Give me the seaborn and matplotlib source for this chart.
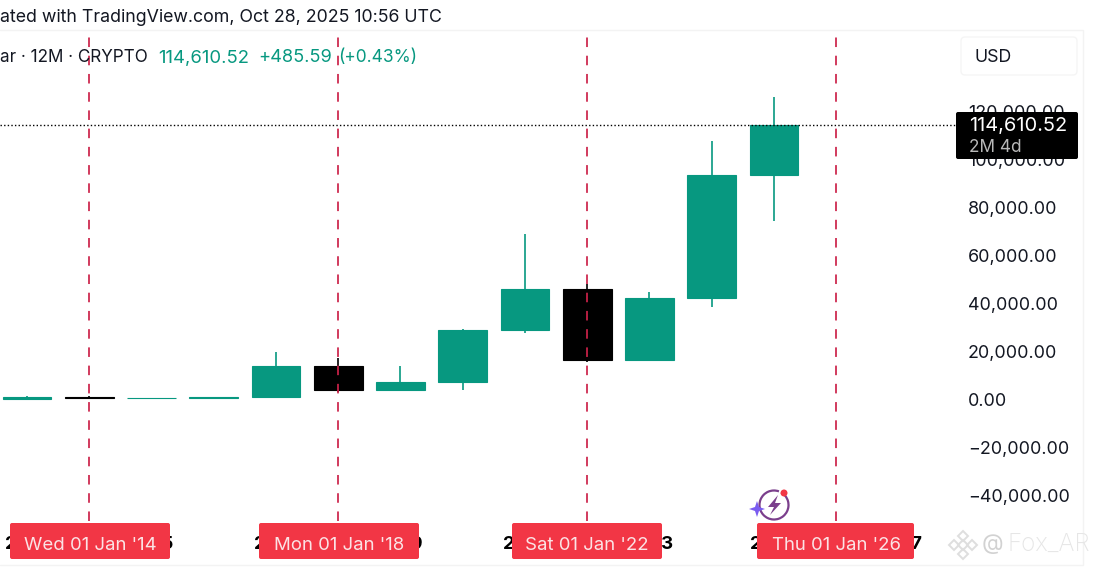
#!/usr/bin/env python3
# yearly candles, tradingview style
import pandas as pd
import matplotlib.pyplot as plt
import seaborn as sns
from matplotlib.patches import FancyBboxPatch, Circle, Arc, Polygon

years = [2013, 2014, 2015, 2016, 2017, 2018, 2019, 2020, 2021, 2022, 2023, 2024, 2025]
opens = [13, 750, 320, 430, 960, 13880, 3700, 7200, 29000, 46200, 16500, 42200, 93400]
closes = [750, 320, 430, 960, 13880, 3700, 7200, 29000, 46200, 16500, 42200, 93400, 114610.52]
highs = [1160, 1150, 500, 1000, 19700, 17200, 13800, 29300, 69000, 48000, 44700, 108000, 126000]
lows = [13, 200, 170, 360, 780, 3200, 3400, 3850, 27700, 15500, 16500, 38500, 74500]

year_ticks = [2013, 2015, 2017, 2019, 2021, 2023, 2025, 2027]
price_ticks = [-40000, -20000, 0, 20000, 40000, 60000, 80000, 100000, 120000]
session_years = [2014, 2018, 2022, 2026]
session_labels = ["Wed 01 Jan '14", "Mon 01 Jan '18", "Sat 01 Jan '22", "Thu 01 Jan '26"]
last_price = 114610.52

UP = '#079880'
DOWN = '#000000'
RED = '#F23645'

sns.set_theme(style='white')
plt.rcParams['font.family'] = ['Inter', 'DejaVu Sans']

W, H = 1099, 571
fig = plt.figure(figsize=(W / 100, H / 100), dpi=100)
ax = fig.add_axes([0, (H - 521) / H, 958 / W, (521 - 30) / H])

df = pd.DataFrame({'year': years, 'open': opens, 'close': closes, 'high': highs, 'low': lows})
df['bottom'] = df[['open', 'close']].min(axis=1)
df['size'] = (df['close'] - df['open']).abs()
colors = [UP if c >= o else DOWN for o, c in zip(opens, closes)]

# candle bodies
sns.barplot(data=df, x='year', y='size', bottom=df['bottom'], native_scale=True,
            color=UP, saturation=1, width=0.785, errorbar=None, linewidth=0.8, ax=ax)
for patch, c in zip(ax.patches, colors):
    patch.set_facecolor(c)
    patch.set_edgecolor(c)

# wicks
ax.vlines(df['year'], df['low'], df['high'], colors=colors, linewidth=1.2, zorder=1)

for y in session_years:
    ax.axvline(y, color='#CC2249', linewidth=1.25, linestyle=(0, (5.5, 5)), zorder=3)
ax.axhline(last_price, color='black', linewidth=1, linestyle=(0, (1, 1.6)), zorder=3)

ax.set_xlim(2014 - 89.2 / 62.25, 2014 + (958 - 89.2) / 62.25)
ax.set_ylim((399.2 - 521) * 417.5, (399.2 - 30) * 417.5)
ax.set_xlabel('')
ax.set_ylabel('')
ax.set_xticks(year_ticks)
ax.set_xticklabels([str(y) for y in year_ticks], fontsize=13.5, fontweight='bold', color='black')
ax.set_yticks(price_ticks)
ax.set_yticklabels([f'{p:,.2f}'.replace('-', '\u2212') for p in price_ticks], fontsize=12.9,
                   color='#131722')
ax.yaxis.tick_right()
ax.tick_params(axis='y', length=0, pad=7)
ax.tick_params(axis='x', length=0, pad=11)
sns.despine(ax=ax, left=True, bottom=True, right=True, top=True)

# overlay in pixel coordinates for the chrome around the chart
ov = fig.add_axes([0, 0, 1, 1], zorder=5)
ov.set_xlim(0, W)
ov.set_ylim(H, 0)
ov.axis('off')
ov.patch.set_alpha(0)

ov.plot([0, 1083, 1083, 0], [30, 30, 565, 565], color='#F3F3F3', linewidth=1)


def box(x0, y0, x1, y1, fc, ec='none', r=2):
    ov.add_patch(FancyBboxPatch((x0 + r, y0 + r), x1 - x0 - 2 * r, y1 - y0 - 2 * r,
                                boxstyle=f'round,pad={r},rounding_size={r}', fc=fc, ec=ec, lw=1))


ov.text(0, 18, 'ated with TradingView.com, Oct 28, 2025 10:56 UTC', fontsize=12.8,
        color='#131722', va='center')
ov.text(0, 58, 'ar \u00b7 12M \u00b7 CRYPTO', fontsize=12.3, color='#131722', va='center')
ov.text(158, 58, '114,610.52', fontsize=13.3, color=UP, va='center')
ov.text(258, 58, '+485.59', fontsize=13.1, color=UP, va='center')
ov.text(338, 58, '(+0.43%)', fontsize=12.5, color=UP, va='center')

box(961, 37, 1077, 75, 'white', '#F5F5F5', r=4)
ov.text(975, 57, 'USD', fontsize=12.8, color='#131722', va='center')

# last price tag
box(956, 112, 1078, 159, 'black')
ov.text(969, 125.5, f'{last_price:,.2f}', fontsize=14.4, color='white', va='center')
ov.text(969, 147, '2M 4d', fontsize=12.4, color='#B8B8B8', va='center')

# date labels
spans = [(10, 170), (259, 419), (512, 662), (757, 914)]
centers = [90, 339, 587, 836]
for (x0, x1), xc, label in zip(spans, centers, session_labels):
    box(x0, 523, x1, 559, RED)
    ov.text(xc, 545, label, fontsize=13.4, color='#FBE3E5', ha='center', va='center')

# lightning badge
ov.add_patch(Arc((774, 505), 29, 29, theta1=-60, theta2=290, color='#7B3F8C', lw=1.6))
ov.add_patch(Polygon([(778, 495), (768, 507), (774, 507), (770, 515), (781, 503), (775, 503)],
                     fc='#7B3F8C', ec='none'))
ov.add_patch(Circle((784, 493), 3.5, fc=RED, ec='none'))
ov.add_patch(Polygon([(757, 501), (759, 507), (765, 509), (759, 511), (757, 517), (755, 511),
                      (749, 509), (755, 507)], fc='#7A5CF0', ec='none'))

# watermark
for cx, cy, s in [(963, 545, 5), (963, 536, 5), (963, 554, 5), (954, 545, 5), (972, 545, 5)]:
    ov.add_patch(Polygon([(cx, cy - s), (cx + s, cy), (cx, cy + s), (cx - s, cy)],
                         fc='none', ec='#DEDEDE', lw=1.4))
ov.text(982, 544, '@', fontsize=16, color='#D2D2D2', va='center')
ov.text(1007, 544, 'Fox_AR', fontsize=17.5, color='#E6E6E6', va='center', fontweight='light')

fig.savefig('out.png', dpi=100)
